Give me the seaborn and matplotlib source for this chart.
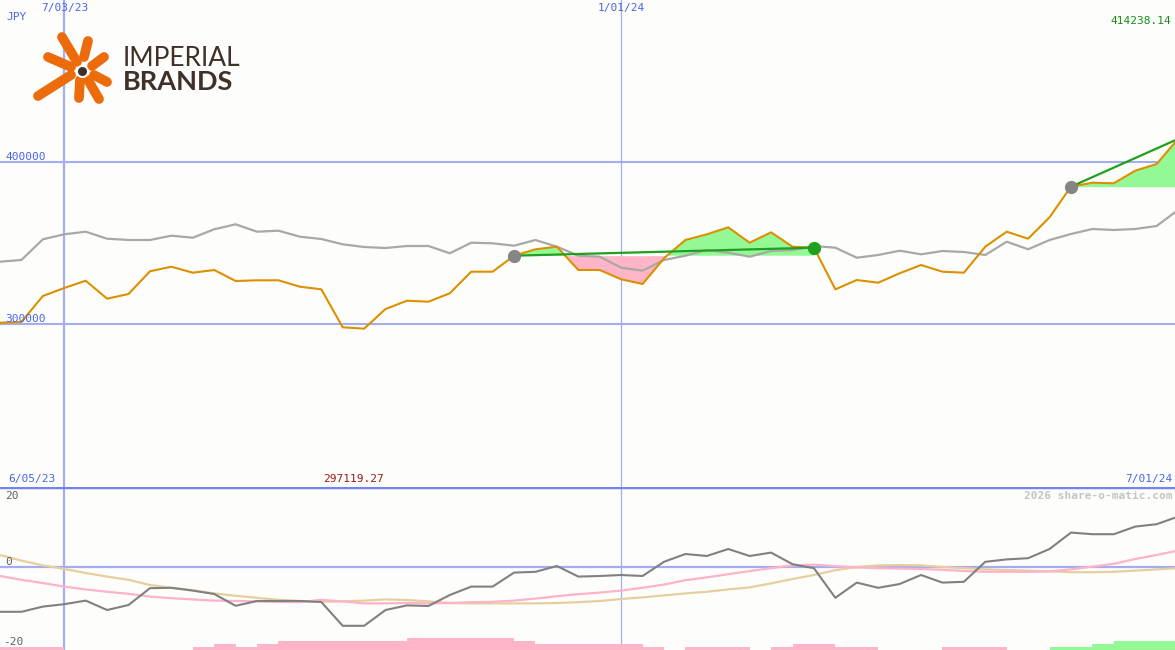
import pandas as pd
import numpy as np
import matplotlib
matplotlib.use("Agg")
import matplotlib.pyplot as plt
from matplotlib.lines import Line2D
import seaborn as sns

# --- Data (weekly) ---
START = "2023-06-12"
N_WEEKS = 56

price = [300802, 301235, 317284, 322222, 326728, 315617, 318519, 332531, 335370, 331667,
         333333, 326543, 326975, 326975, 323025, 321420, 297963, 297119.27, 309259, 314383,
         313765, 318951, 332284, 332284, 342160, 346111, 347716, 333333, 333333, 327593,
         324691, 340556, 351852, 355370, 359691, 350185, 356605, 347716, 347099, 321420,
         327160, 325494, 331296, 336420, 332284, 331667, 347716, 356975, 352654, 365864,
         384753, 387222, 386852, 394630, 398765, 414238.14]

compare = [338457, 339506, 352284, 355370, 356975, 352654, 351852, 351852, 354506, 353272,
           358457, 361543, 356975, 357593, 353889, 352469, 349198, 347531, 346914, 348148,
           348148, 343642, 350185, 349815, 348333, 351852, 347716, 342160, 341543, 334753,
           332901, 339506, 342160, 345679, 344012, 341543, 345062, 345679, 348148, 347099,
           340926, 342593, 345247, 343025, 345062, 344444, 342593, 350802, 346111, 351852,
           355556, 358642, 358025, 358642, 360494, 370370]

momentum = [-11.2, -11.2, -9.9, -9.3, -8.4, -10.75, -9.5, -5.3, -5.2, -5.9,
            -6.75, -9.7, -8.5, -8.5, -8.5, -8.75, -14.7, -14.7, -10.75, -9.6,
            -9.75, -7.0, -4.9, -4.9, -1.4, -1.2, 0.25, -2.4, -2.25, -2.0,
            -2.25, 1.3, 3.25, 2.75, 4.5, 2.75, 3.6, 0.7, -0.3, -7.7,
            -3.9, -5.2, -4.25, -2.0, -3.9, -3.7, 1.3, 1.9, 2.2, 4.5,
            8.6, 8.2, 8.2, 10.1, 10.7, 12.6]

signal_fast = [-2.25, -3.2, -4.0, -4.9, -5.6, -6.2, -6.7, -7.4, -7.8, -8.1,
               -8.4, -8.5, -8.6, -8.7, -8.8, -8.2, -8.6, -9.1, -9.1, -9.0,
               -9.1, -9.0, -8.8, -8.7, -8.4, -7.9, -7.3, -6.8, -6.4, -5.9,
               -5.2, -4.4, -3.3, -2.6, -1.8, -1.0, -0.3, 0.4, 0.6, 0.2,
               -0.1, -0.3, -0.4, -0.5, -0.7, -1.0, -1.2, -1.2, -1.2, -1.1,
               -0.6, 0.1, 0.8, 2.0, 3.0, 4.1]

signal_slow = [3.0, 1.6, 0.4, -0.5, -1.5, -2.4, -3.2, -4.5, -5.2, -5.8,
               -6.6, -7.2, -7.7, -8.2, -8.5, -8.7, -8.6, -8.4, -8.1, -8.25,
               -8.6, -9.0, -9.1, -9.1, -9.1, -9.1, -9.0, -8.8, -8.5, -8.0,
               -7.6, -7.1, -6.6, -6.2, -5.6, -5.1, -4.1, -3.0, -2.0, -0.8,
               0.0, 0.4, 0.5, 0.4, 0.0, -0.3, -0.6, -0.75, -0.9, -1.1,
               -1.3, -1.3, -1.2, -0.9, -0.6, -0.3]

# signed histogram level for each week interval (pink < 0, green > 0)
hist_level = [-1, -1, -1, 0, 0, 0, 0, 0, 0, -1,
              -2, -1, -2, -3, -3, -3, -3, -3, -3, -4,
              -4, -4, -4, -4, -3, -2, -2, -2, -2, -2,
              -1, 0, -1, -1, -1, 0, -1, -2, -2, -1,
              -1, 0, 0, 0, -1, -1, -1, 0, 0, 1,
              1, 2, 3, 3, 3]

# trend segments (start week, end week)
segments = [(24, 38), (50, 55)]
grid_dates = ["2023-07-03", "2024-01-01"]
price_grid = [400000, 300000]

dates = pd.date_range(START, periods=N_WEEKS, freq="7D")
df = pd.DataFrame({"date": dates, "price": price, "compare": compare,
                   "momentum": momentum, "fast": signal_fast, "slow": signal_slow})

# --- Style ---
BG = "#fdfefb"
GRID = "#a4acf4"
BLUE_TXT = "#4a64e8"
ORANGE = "#dc9000"
GREEN = "#20a020"
FILL_G = "#94f894"
FILL_P = "#ffb4c8"

sns.set_style("white")
plt.rcParams["font.family"] = ["DejaVu Sans Mono", "DejaVu Sans"]

W, H = 1175, 650
fig = plt.figure(figsize=(W / 100, H / 100), dpi=100, facecolor=BG)
ax = fig.add_axes([0, 163 / H, 1, 487 / H], facecolor=BG)
ax2 = fig.add_axes([0, 0, 1, 163 / H], facecolor=BG)

xlim = (dates[0], dates[0] + pd.Timedelta(days=384))
for a in (ax, ax2):
    a.set_xlim(xlim)
    a.set_axis_off()

ax.set_ylim(199383, 500000)
ax2.set_ylim(-20.75, 20)

# --- Main panel ---
for i, d in enumerate(grid_dates):
    ax.axvline(pd.Timestamp(d), color=GRID, lw=1.6 if i == 0 else 0.9, zorder=1)
    ax2.axvline(pd.Timestamp(d), color=GRID, lw=1.6 if i == 0 else 0.9, zorder=1)
for v in price_grid:
    ax.axhline(v, color=GRID, lw=1.5, zorder=1)

for s, e in segments:
    sub = df.iloc[s:e + 1]
    base = price[s]
    ax.fill_between(sub["date"], sub["price"], base, where=sub["price"] >= base,
                    interpolate=True, color=FILL_G, lw=0, zorder=2)
    ax.fill_between(sub["date"], sub["price"], base, where=sub["price"] < base,
                    interpolate=True, color=FILL_P, lw=0, zorder=2)

sns.lineplot(data=df, x="date", y="compare", ax=ax, color="#a8a8a8", lw=1.6, zorder=3)
sns.lineplot(data=df, x="date", y="price", ax=ax, color=ORANGE, lw=1.5, zorder=4)

for s, e in segments:
    ax.plot([dates[s], dates[e]], [price[s], price[e]], color=GREEN, lw=1.6, zorder=5)
    ax.plot(dates[s], price[s], "o", ms=8.5, color="#858585", zorder=6)
ax.plot(dates[segments[0][1]], price[segments[0][1]], "o", ms=8.5, color=GREEN, zorder=6)

# --- Lower panel ---
ax2.axhline(0, color=GRID, lw=1.6, zorder=1)
ax2.axhline(20, color="#7484ec", lw=2.5, zorder=6)
lvl = np.array(hist_level)
bar_unit = 0.78
ax2.bar(dates[:len(lvl)], np.abs(lvl) * bar_unit, width=7, align="edge", bottom=-20.75,
        color=[FILL_G if v > 0 else FILL_P for v in lvl], lw=0, zorder=2)
sns.lineplot(data=df, x="date", y="slow", ax=ax2, color="#e6cf9f", lw=1.6, zorder=3)
sns.lineplot(data=df, x="date", y="fast", ax=ax2, color="#ffb2c8", lw=1.6, zorder=3)
sns.lineplot(data=df, x="date", y="momentum", ax=ax2, color="#808080", lw=1.5, zorder=4)


# --- Text ---
def px_text(x, y, s, **kw):
    fig.text(x / W, 1 - y / H, s, **kw)


small = dict(fontsize=8, va="center")
px_text(6, 17, "JPY", color=BLUE_TXT, ha="left", **small)
px_text(65, 8, "7/03/23", color=BLUE_TXT, ha="center", **small)
px_text(621, 8, "1/01/24", color=BLUE_TXT, ha="center", **small)
px_text(1171, 21, "414238.14", color="#109010", ha="right", **small)
px_text(5, 157, "400000", color=BLUE_TXT, ha="left", **small)
px_text(5, 319, "300000", color=BLUE_TXT, ha="left", **small)
px_text(8, 479, "6/05/23", color=BLUE_TXT, ha="left", **small)
px_text(353, 479, "297119.27", color="#a01818", ha="center", **small)
px_text(1172, 479, "7/01/24", color=BLUE_TXT, ha="right", **small)
px_text(1172, 496, "2026 share-o-matic.com", color="#c4c4c4", ha="right",
        fontweight="bold", **small)
px_text(5, 496, "20", color="#606060", ha="left", **small)
px_text(5, 562, "0", color="#606060", ha="left", **small)
px_text(3, 642, "-20", color="#606060", ha="left", **small)

# --- Logo ---
LOGO_O = "#ec6c0c"
LOGO_D = "#3f3029"
rays = [((62, 37), (77, 62)), ((88, 41), (84, 57)), ((104, 57), (92, 66)),
        ((48, 57), (71, 67)), ((38, 96), (71, 75)), ((79, 98), (80, 80)),
        ((99, 99), (88, 80)), ((107, 82), (94, 75))]
for (x0, y0), (x1, y1) in rays:
    fig.add_artist(Line2D([x0 / W, x1 / W], [1 - y0 / H, 1 - y1 / H], color=LOGO_O,
                          lw=7, solid_capstyle="round", transform=fig.transFigure))
fig.add_artist(Line2D([82 / W], [1 - 71 / H], marker="o", ms=8, color=LOGO_D,
                      markeredgecolor=BG, markeredgewidth=1.5, transform=fig.transFigure))
fig.text(123 / W, 1 - 59 / H, "IMPERIAL", fontsize=19, family="Lato", fontweight="normal",
         color=LOGO_D, va="center", ha="left")
fig.text(123 / W, 1 - 82 / H, "BRANDS", fontsize=19.5, family="Lato", fontweight="bold",
         color=LOGO_D, va="center", ha="left")

fig.savefig("out.png", dpi=100, facecolor=BG)
